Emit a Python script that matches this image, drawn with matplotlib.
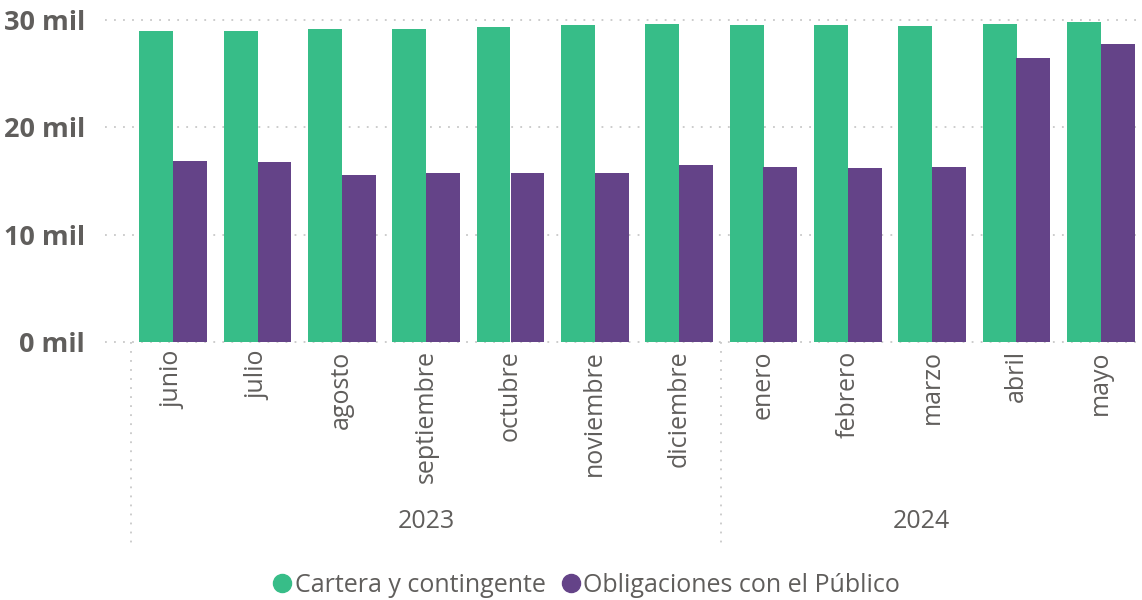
import matplotlib
matplotlib.use("Agg")
import matplotlib.pyplot as plt
from matplotlib.lines import Line2D
import matplotlib.transforms as mtransforms
import numpy as np

# ── Data ──────────────────────────────────────────────────
months = ["junio", "julio", "agosto", "septiembre", "octubre", "noviembre",
          "diciembre", "enero", "febrero", "marzo", "abril", "mayo"]
years = ["2023", "2024"]
year_groups = [(0, 6), (7, 11)]   # first and last month index per year

cartera = [28.95, 28.95, 29.15, 29.15, 29.35, 29.5,
           29.6, 29.5, 29.5, 29.45, 29.6, 29.8]
obligaciones = [16.85, 16.75, 15.55, 15.75, 15.75, 15.75,
                16.5, 16.3, 16.2, 16.3, 26.45, 27.75]
series_names = ["Cartera y contingente", "Obligaciones con el Público"]
yticks = [0, 10, 20, 30]

# ── Style ─────────────────────────────────────────────────
GREEN = "#37BD88"
PURPLE = "#644388"
GREY = "#605E5C"
GRID = "#C8C8C8"
plt.rcParams["font.family"] = ["Open Sans", "DejaVu Sans"]

W, H = 1142, 600
fig = plt.figure(figsize=(W / 100, H / 100), dpi=100)
ax_left, ax_right, ax_bottom = 131, 1143, 342
ymax = 31
px_per_unit = 10.733
ax_top = ax_bottom - ymax * px_per_unit
ax = fig.add_axes([ax_left / W, 1 - ax_bottom / H,
                   (ax_right - ax_left) / W, (ax_bottom - ax_top) / H])

x = np.arange(len(months))
bw = 0.403
ax.bar(x - bw / 2, cartera, bw, color=GREEN, label=series_names[0])
ax.bar(x + bw / 2, obligaciones, bw, color=PURPLE, label=series_names[1])

ax.set_xlim(-0.5, len(months) - 0.5)
ax.set_ylim(0, ymax)
for s in ax.spines.values():
    s.set_visible(False)

# gridlines (extend a bit left of the plot area)
trans = mtransforms.blended_transform_factory(ax.transAxes, ax.transData)
x0 = (105 - ax_left) / (ax_right - ax_left)
for t in yticks:
    ax.plot([x0, 1], [t, t], transform=trans, color=GRID, lw=1.3,
            ls=(0, (1, 4)), clip_on=False, zorder=0)

ax.set_yticks(yticks)
ax.set_yticklabels([f"{t} mil" for t in yticks], fontsize=19.5,
                   fontweight="bold", color=GREY)
ax.tick_params(axis="y", length=0, pad=33)
ax.set_xticks(x)
ax.set_xticklabels(months, rotation=90, fontsize=18, color=GREY, va="top")
ax.tick_params(axis="x", length=0, pad=6)

# year level of the hierarchical axis
ax_h = ax_bottom - ax_top
sep_bottom = -(545 - ax_bottom) / ax_h
trans_x = mtransforms.blended_transform_factory(ax.transData, ax.transAxes)
for xs in [-0.5, 6.5]:
    ax.plot([xs, xs], [0, sep_bottom], transform=trans_x, color=GRID, lw=1.3,
            ls=(0, (1, 4)), clip_on=False)
year_y = -(521 - ax_bottom) / ax_h
year_x = [(year_groups[0][0] + year_groups[0][1]) / 2, 8.87]
for yx, yl in zip(year_x, years):
    ax.text(yx, year_y, yl, transform=trans_x, ha="center", va="center",
            fontsize=18, color=GREY)

# legend
handles = [Line2D([], [], marker="o", ls="", color=GREEN, markersize=13),
           Line2D([], [], marker="o", ls="", color=PURPLE, markersize=13)]
fig.legend(handles, series_names, loc="center", ncol=2, frameon=False,
           bbox_to_anchor=(585 / W, 1 - 585 / H), fontsize=18,
           labelcolor=GREY, handletextpad=0.0, columnspacing=0.5,
           handlelength=1.0)

fig.savefig("out.png", dpi=100)
